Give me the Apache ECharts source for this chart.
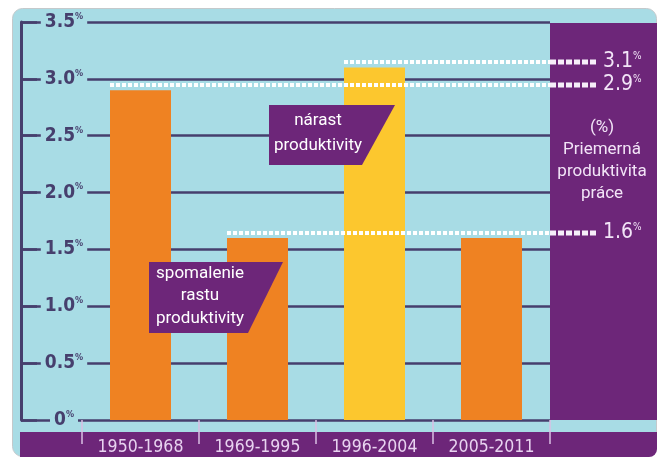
<!DOCTYPE html>
<html>
<head>
<meta charset="utf-8">
<script src="https://cdn.jsdelivr.net/npm/echarts@6/dist/echarts.min.js"></script>
<style>
  html, body { margin: 0; padding: 0; background: #ffffff; }
  #chart { width: 660px; height: 457px; }
</style>
</head>
<body>
<div id="chart"></div>
<script>
// Average labour productivity by period (%)
const periods = ['1950-1968', '1969-1995', '1996-2004', '2005-2011'];
const productivity = [2.9, 1.6, 3.1, 1.6];
const barColors = ['#ef8222', '#ef8222', '#fcc72e', '#ef8222'];
// periods whose level is carried to the right-hand panel by a dotted line
const markedPeriods = [0, 1, 2];
const yMin = 0, yMax = 3.5, yStep = 0.5;
const panelLines = ['(%)', 'Priemerná', 'produktivita', 'práce'];
const noteRise = ['nárast', 'produktivity'];
const noteSlow = ['spomalenie', 'rastu', 'produktivity'];

const BLUE = '#a8dce5';
const PURPLE = '#6d2679';
const INK = '#463f6d';
const LAV = '#f2e4f7';
const BAR_W = 61;

const chart = echarts.init(document.getElementById('chart'));

const sansFont = 'Roboto, "Liberation Sans", sans-serif';
const condFont = '"DejaVu Sans Condensed", "DejaVu Sans", sans-serif';

chart.setOption({
  animation: false,
  backgroundColor: 'transparent',
  grid: [
    { left: 21, right: 110, top: 22, bottom: 37 },
    { left: 82, right: 110, top: 22, bottom: 37 }
  ],
  xAxis: [
    { gridIndex: 0, type: 'value', min: 0, max: 1, show: false },
    {
      gridIndex: 1,
      type: 'category',
      data: periods,
      offset: 13,
      axisLine: { show: false },
      axisTick: { show: true, length: 24, interval: 0, lineStyle: { color: '#d9c0e4', width: 1.5 } },
      axisLabel: {
        interval: 0,
        margin: 5,
        color: '#e8d3f0',
        fontSize: 17.5,
        fontFamily: condFont
      }
    }
  ],
  yAxis: [
    {
      gridIndex: 0,
      type: 'value',
      min: yMin,
      max: yMax,
      interval: yStep,
      axisLine: { show: true, lineStyle: { color: INK, width: 3 } },
      axisTick: { show: true, inside: true, length: 16, lineStyle: { color: INK, width: 2.5 } },
      splitLine: { show: true, lineStyle: { color: INK, width: 2.5 } },
      axisLabel: {
        inside: true,
        margin: 43,
        align: 'center',
        backgroundColor: BLUE,
        padding: [2, 4, 2, 4],
        formatter: v => `{n|${v === 0 ? '0' : v.toFixed(1)}}{p|%}`,
        rich: {
          n: { fontSize: 19, fontWeight: 'bold', color: INK, fontFamily: condFont, lineHeight: 20 },
          p: { fontSize: 9, fontWeight: 'bold', color: INK, verticalAlign: 'top', fontFamily: condFont, lineHeight: 20 }
        }
      }
    },
    { gridIndex: 1, type: 'value', min: yMin, max: yMax, interval: yStep, show: false }
  ],
  graphic: [
    {
      type: 'rect', z: -10,
      shape: { x: 12.5, y: 8.5, width: 644, height: 448, r: 10 },
      style: { fill: BLUE, stroke: '#c4c9cb', lineWidth: 1 }
    },
    {
      type: 'rect', z: -5,
      shape: { x: 550, y: 23, width: 107, height: 397 },
      style: { fill: PURPLE }
    },
    {
      type: 'rect', z: -5,
      shape: { x: 20, y: 432, width: 637, height: 25, r: [0, 0, 8, 0] },
      style: { fill: PURPLE }
    },
    {
      type: 'text', z: 10,
      x: 602, y: 117,
      style: {
        text: panelLines.join('\n'),
        align: 'center', verticalAlign: 'top',
        fill: LAV, fontSize: 17, fontFamily: sansFont, lineHeight: 22
      }
    },
    {
      type: 'polygon', z: 10,
      shape: { points: [[269, 105], [395, 105], [362, 165], [269, 165]] },
      style: { fill: PURPLE }
    },
    {
      type: 'text', z: 11,
      x: 318, y: 108,
      style: {
        text: noteRise.join('\n'),
        align: 'center', verticalAlign: 'top',
        fill: '#ffffff', fontSize: 17, fontFamily: sansFont, lineHeight: 25
      }
    },
    {
      type: 'polygon', z: 10,
      shape: { points: [[149, 262], [283, 262], [248, 333], [149, 333]] },
      style: { fill: PURPLE }
    },
    {
      type: 'text', z: 11,
      x: 200, y: 262,
      style: {
        text: noteSlow.join('\n'),
        align: 'center', verticalAlign: 'top',
        fill: '#ffffff', fontSize: 17, fontFamily: sansFont, lineHeight: 22.5
      }
    }
  ],
  series: [
    {
      type: 'bar',
      xAxisIndex: 1,
      yAxisIndex: 1,
      barWidth: BAR_W,
      data: productivity.map((v, i) => ({ value: v, itemStyle: { color: barColors[i] } }))
    },
    {
      type: 'custom',
      xAxisIndex: 1,
      yAxisIndex: 1,
      z: 5,
      clip: false,
      data: markedPeriods.map(i => [i, productivity[i]]),
      renderItem: (params, api) => {
        const cs = params.coordSys;
        const v = api.value(1);
        const p = api.coord([api.value(0), v]);
        const y = Math.round(p[1] - 5);
        const x0 = p[0] - BAR_W / 2;
        const xPanel = cs.x + cs.width;
        const xEnd = xPanel + 48;
        return {
          type: 'group',
          children: [
            {
              type: 'line',
              shape: { x1: x0, y1: y, x2: xPanel, y2: y },
              style: { stroke: '#ffffff', lineWidth: 4, lineDash: [4, 2] }
            },
            {
              type: 'line',
              shape: { x1: xPanel, y1: y, x2: xEnd, y2: y },
              style: { stroke: '#f6eef9', lineWidth: 5, lineDash: [6, 2] }
            },
            {
              type: 'text',
              x: xEnd + 5,
              y: y,
              style: {
                text: `{n|${v.toFixed(1)}}{p|%}`,
                align: 'left',
                verticalAlign: 'middle',
                fill: LAV,
                rich: {
                  n: { fontSize: 21, fill: LAV, fontFamily: condFont, lineHeight: 22 },
                  p: { fontSize: 10, fill: LAV, verticalAlign: 'top', fontFamily: condFont, lineHeight: 22 }
                }
              }
            }
          ]
        };
      }
    }
  ]
});
</script>
</body>
</html>
